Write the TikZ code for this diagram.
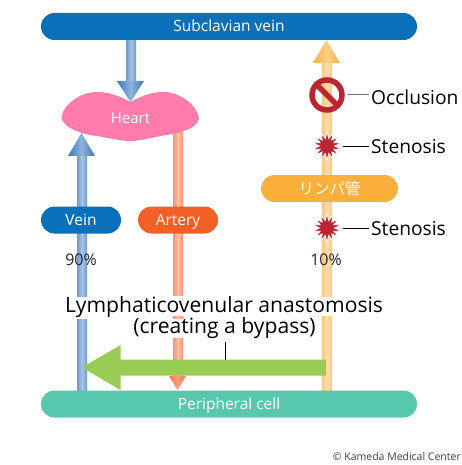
\documentclass[tikz,border=0pt]{standalone}
\usepackage{fontspec}
\setmainfont{Open Sans}
\newfontfamily\cjk{Noto Sans CJK JP}
\usetikzlibrary{shapes.geometric,shapes.misc}
\definecolor{barblue}{HTML}{0A70BA}
\definecolor{artorange}{HTML}{F26027}
\definecolor{lymph}{HTML}{FBB03B}
\definecolor{teal}{HTML}{57C8AE}
\definecolor{heartpink}{HTML}{FF7BAC}
\definecolor{grn}{HTML}{99CC55}
\definecolor{occ}{HTML}{BE2430}
\tikzset{
 x=1pt,y=-1pt,
 pill/.style={rounded rectangle,minimum height=27pt,inner sep=0pt,text=white,text height=11pt,text depth=0pt,font=\fontsize{15.5}{15.5}\selectfont},
 lab/.style={font=\fontsize{19.2}{19.2}\selectfont,inner sep=0pt,text=black},
 pct/.style={font=\fontsize{16}{16}\selectfont,inner sep=0pt,text=black!85},
 big/.style={font=\fontsize{21.1}{21.1}\selectfont,inner sep=0pt,text=black},
 patch/.style={fill=white,draw=none},
}
\newcommand{\triGrad}[3]{\pgfdeclarehorizontalshading{#1}{100bp}{color(0bp)=(#2);color(25bp)=(#2);color(50bp)=(#3);color(75bp)=(#2);color(100bp)=(#2)}}
\definecolor{bs1}{HTML}{6C9BD2}\definecolor{bs2}{HTML}{A9C4E4}
\definecolor{bh1}{HTML}{3A78BC}\definecolor{bh2}{HTML}{8FB3DE}
\definecolor{as1}{HTML}{FF9270}\definecolor{as2}{HTML}{FFC0A6}
\definecolor{ah1}{HTML}{F4764C}\definecolor{ah2}{HTML}{FF9C7C}
\definecolor{os1}{HTML}{FDC77F}\definecolor{os2}{HTML}{FEDDAE}
\definecolor{oh1}{HTML}{FBB03B}\definecolor{oh2}{HTML}{FDD08A}
\triGrad{bsS}{bs1}{bs2}\triGrad{bhS}{bh1}{bh2}
\triGrad{asS}{as1}{as2}\triGrad{ahS}{ah1}{ah2}
\triGrad{osS}{os1}{os2}\triGrad{ohS}{oh1}{oh2}
\begin{document}
\begin{tikzpicture}
\useasboundingbox (0,0) rectangle (462,465);
% shafts and heads
\shade[shading=bsS] (126,40) rectangle (136,81);
\shade[shading=bhS] (117,81) -- (144,81) -- (130.5,102) -- cycle;
\shade[shading=bsS] (77,156) rectangle (87,390);
\shade[shading=bhS] (68,156) -- (95,156) -- (81.5,133) -- cycle;
\shade[shading=asS] (173,130) rectangle (183,376);
\shade[shading=ahS] (169,376) -- (186,376) -- (177.5,390) -- cycle;
\shade[shading=osS] (322,63) rectangle (332,390);
\shade[shading=ohS] (313,63) -- (340,63) -- (326.5,40) -- cycle;
% gaps
\fill[patch] (173,296) rectangle (183,316);
\fill[patch] (173,319) rectangle (183,338);
\fill[patch] (77,297) rectangle (87,319);
\fill[patch] (322,297) rectangle (332,316);
% heart
\fill[heartpink] (130.5,102) .. controls (118,95) and (107,92) .. (97,92)
  .. controls (80,92) and (63,105) .. (61.5,117)
  .. controls (62,126) and (76,132) .. (90,135)
  .. controls (105,137) and (120,141) .. (130.5,141)
  .. controls (141,141) and (158,136) .. (172,134)
  .. controls (186,131) and (198,127) .. (199,118)
  .. controls (197,105) and (180,92) .. (163,92)
  .. controls (152,92) and (141,96) .. (130.5,102) -- cycle;
\node[text=white,font=\fontsize{15}{15}\selectfont,inner sep=0pt] (heart) at (130.5,118) {Heart};
% pills
\node[pill,fill=barblue,minimum width=376pt] (sub) at (229,26.5) {Subclavian vein};
\node[pill,fill=barblue,minimum width=80pt] (vein) at (81,220) {Vein};
\node[pill,fill=artorange,minimum width=80pt] (art) at (178,220) {Artery};
\node[pill,fill=lymph,minimum width=137pt,font=\cjk\fontsize{15.5}{15.5}\selectfont] (lym) at (329.5,188.5) {リンパ管};
\node[pill,fill=teal,minimum width=376pt] (per) at (229,404) {Peripheral cell};
% occlusion sign
\coordinate (oc) at (327,95);
\draw[occ,line width=5.5pt] (oc) circle (15);
\draw[occ,line width=5.5pt] (316.4,84.4) -- (337.6,105.6);
% stars
\node[star,star points=14,star point ratio=1.9,fill=occ,draw=white,line width=.8pt,minimum size=29pt,inner sep=0pt] (st1) at (327,146) {};
\node[star,star points=14,star point ratio=1.9,fill=occ,draw=white,line width=.8pt,minimum size=29pt,inner sep=0pt] (st2) at (327,228) {};
% labels
\node[lab,anchor=west] (oclab) at (371,97.5) {Occlusion};
\node[lab,anchor=west] (stlab1) at (371,146.5) {Stenosis};
\node[lab,anchor=west] (stlab2) at (371,228.5) {Stenosis};
\draw[black!55,line width=1pt] (348,95) -- (369,95);
\draw[black,line width=.8pt] (343,146) -- (369,146);
\draw[black,line width=.8pt] (343,228) -- (369,228);
\node[pct] (p90) at (81,260) {90\%};
\node[pct] (p10) at (326,260) {10\%};
\node[big] (lva) at (224,307) {Lymphaticovenular anastomosis};
\node[big] (cab) at (224.5,328.5) {(creating a bypass)};
% green arrow
\fill[grn] (326,359.5) -- (120.5,359.5) -- (120.5,345) -- (82,367.5) -- (120.5,390) -- (120.5,375.5) -- (326,375.5) -- cycle;
\coordinate (gtop) at (225,359.5);
\draw[black,line width=.8pt] (225,342) -- (gtop);
\node[font=\fontsize{10.5}{10.5}\selectfont,inner sep=0pt,anchor=east,text=black!75] (cr) at (461,457) {© Kameda Medical Center};
\end{tikzpicture}
\end{document}
